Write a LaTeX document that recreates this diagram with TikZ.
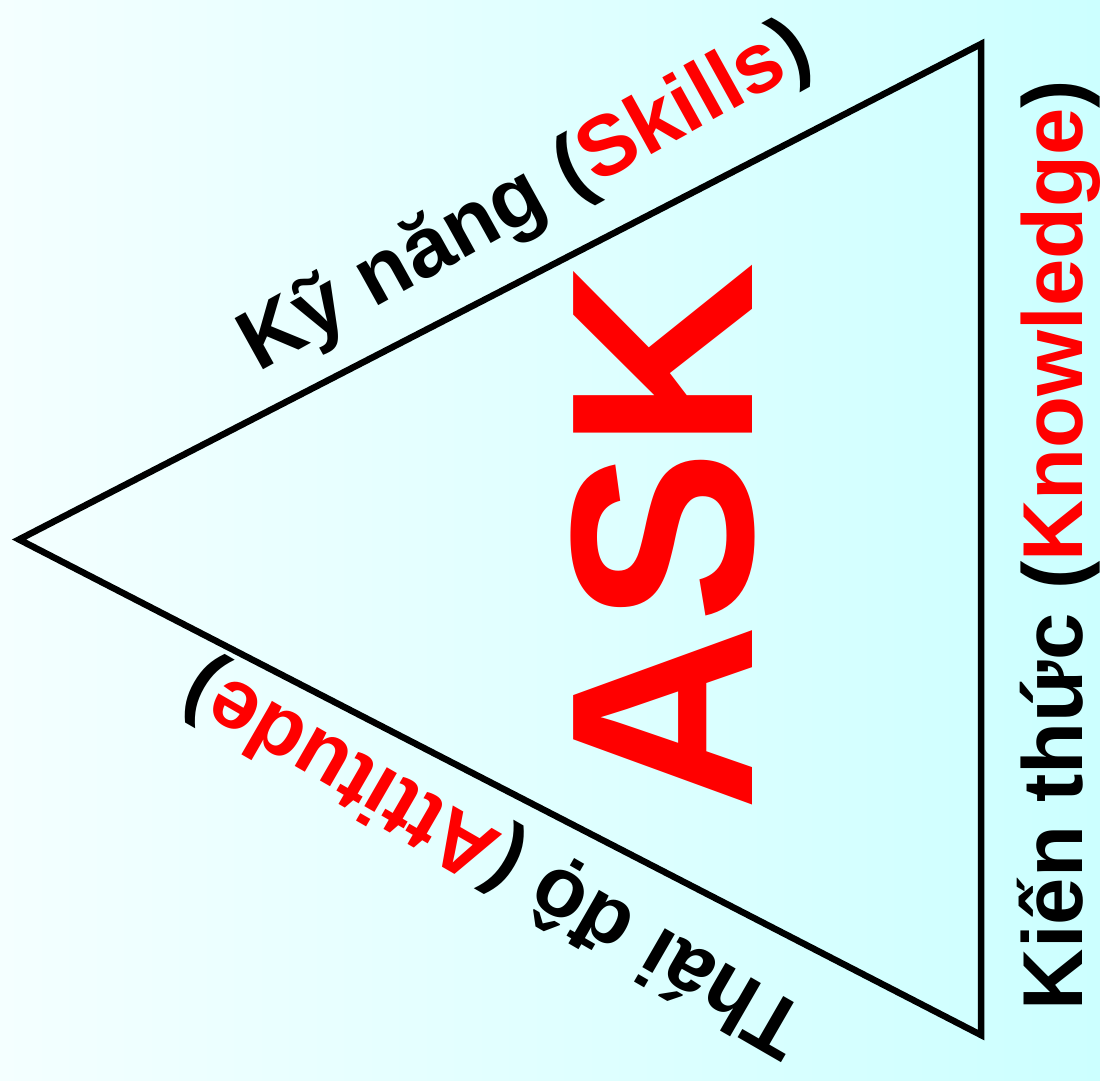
\documentclass[tikz,border=0pt]{standalone}
\usepackage{fontspec}
\setmainfont{Liberation Sans}
\definecolor{bgleft}{RGB}{244,255,255}
\definecolor{bgright}{RGB}{204,255,255}
\definecolor{askred}{RGB}{255,0,0}
\begin{document}
\begin{tikzpicture}[x=1pt,y=-1pt,
  lbl/.style={inner sep=0pt, outer sep=0pt, anchor=base, text=black,
    font=\bfseries\fontsize{85}{90}\selectfont},
  edge/.style={draw=black, line width=6.5pt, line join=miter}]
\useasboundingbox (0,0) rectangle (1100,1080);
\shade[left color=bgleft, right color=bgright] (0,0) rectangle (1100,1080);
\coordinate (L) at (19,539.5);
\coordinate (T) at (981,44);
\coordinate (B) at (981,1035);
\draw[edge] (L) -- (T) -- (B) -- cycle;
\node[lbl, rotate=90, text=askred, font=\bfseries\fontsize{260}{260}\selectfont] (ask) at (752,537) {ASK};
\node[lbl, rotate=90] (know) at (1082,545) {Kiến thức (\textcolor{askred}{Knowledge})};
\node[lbl, rotate=29] (skill) at (537,218) {Kỹ năng (\textcolor{askred}{Skills})};
\node[lbl, rotate=150] (att) at (507,837) {Thái độ (\textcolor{askred}{Attitude})};
\end{tikzpicture}
\end{document}
